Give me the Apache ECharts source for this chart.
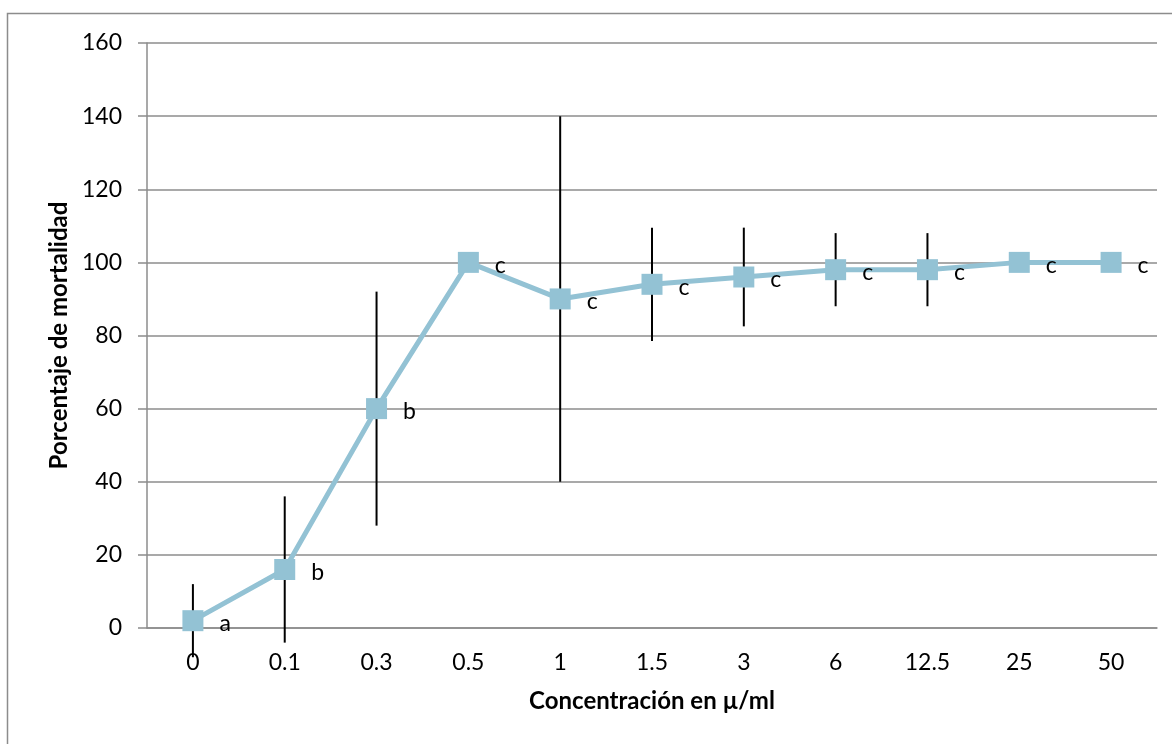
<!DOCTYPE html>
<html>
<head>
<meta charset="utf-8">
<script src="https://cdn.jsdelivr.net/npm/echarts@6/dist/echarts.min.js"></script>
<style>
  html, body { margin: 0; padding: 0; background: #fff; }
  #chart { width: 1172px; height: 744px; }
</style>
</head>
<body>
<div id="chart"></div>
<script>
// concentration categories (µ/ml)
const categories = ['0', '0.1', '0.3', '0.5', '1', '1.5', '3', '6', '12.5', '25', '50']
// mean mortality (%)
const mortality = [2, 16, 60, 100, 90, 94, 96, 98, 98, 100, 100]
// error bar half-width (±)
const errors = [10, 20, 32, 0, 50, 15.5, 13.5, 10, 10, 0, 0]
// significance letters
const letters = ['a', 'b', 'b', 'c', 'c', 'c', 'c', 'c', 'c', 'c', 'c']
const yTicks = { min: 0, max: 160, interval: 20 }

const FONT = 'Lato, "Open Sans", sans-serif'
const LINE_COLOR = '#93c2d4'

const chart = echarts.init(document.getElementById('chart'))

const errorData = mortality.map((v, i) => [i, v - errors[i], v + errors[i]])

const option = {
  animation: false,
  backgroundColor: '#fff',
  textStyle: { fontFamily: FONT },
  grid: { left: 147, right: 15, top: 43, bottom: 116 },
  graphic: [
    {
      type: 'polyline',
      shape: { points: [[7.5, 744], [7.5, 13.5], [1172, 13.5]] },
      style: { stroke: '#8c8c8c', lineWidth: 1.5, fill: null },
      silent: true,
    },
  ],
  xAxis: {
    type: 'category',
    data: categories,
    boundaryGap: true,
    name: 'Concentración en µ/ml',
    nameLocation: 'middle',
    nameGap: 61,
    nameTextStyle: { fontFamily: FONT, fontSize: 24, fontWeight: 'bold', color: '#000' },
    axisLine: { lineStyle: { color: '#8c8c8c', width: 1.5 } },
    axisTick: { show: false },
    axisLabel: { fontFamily: FONT, fontSize: 23, color: '#000', margin: 23 },
    splitLine: { show: false },
  },
  yAxis: {
    type: 'value',
    min: yTicks.min,
    max: yTicks.max,
    interval: yTicks.interval,
    name: 'Porcentaje de mortalidad',
    nameLocation: 'middle',
    nameGap: 65,
    nameTextStyle: { fontFamily: FONT, fontSize: 24, fontWeight: 'bold', color: '#000' },
    axisLine: { show: true, lineStyle: { color: '#8c8c8c', width: 1.5 } },
    axisTick: { show: true, length: 9, lineStyle: { color: '#8c8c8c', width: 1.5 } },
    axisLabel: { fontFamily: FONT, fontSize: 23, color: '#000', margin: 25 },
    splitLine: { lineStyle: { color: '#8c8c8c', width: 1.5 } },
  },
  series: [
    {
      type: 'custom',
      z: 1,
      data: errorData,
      renderItem: (params, api) => {
        const lo = api.coord([api.value(0), api.value(1)])
        const hi = api.coord([api.value(0), api.value(2)])
        return {
          type: 'line',
          shape: { x1: lo[0], y1: lo[1], x2: hi[0], y2: hi[1] },
          style: { stroke: '#000', lineWidth: 2 },
        }
      },
      clip: false,
    },
    {
      type: 'line',
      z: 3,
      data: mortality,
      symbol: 'rect',
      symbolSize: 21,
      itemStyle: { color: LINE_COLOR },
      lineStyle: { color: LINE_COLOR, width: 5 },
      label: {
        show: true,
        position: 'right',
        distance: 16,
        offset: [0, 3],
        fontFamily: FONT,
        fontSize: 23,
        color: '#000',
        formatter: (p) => letters[p.dataIndex],
      },
    },
  ],
}

chart.setOption(option)
</script>
</body>
</html>
